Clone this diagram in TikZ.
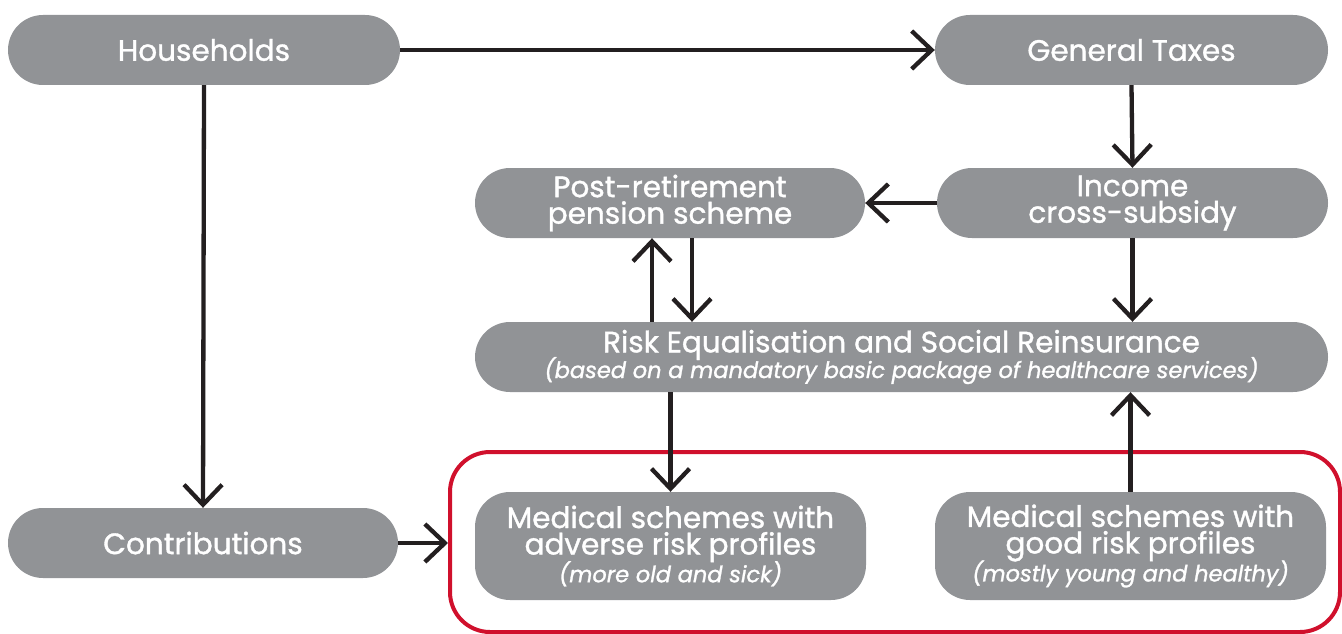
\documentclass[tikz,border=0pt]{standalone}
\usepackage{fontspec}
\setmainfont{Poppins}[FakeBold=1.2]
\usetikzlibrary{arrows.meta}
\definecolor{boxgrey}{RGB}{145,147,150}
\definecolor{linedark}{RGB}{35,31,32}
\definecolor{frame}{RGB}{208,16,44}
\tikzset{
  pill/.style={draw=none, fill=boxgrey, text=white, rounded corners=35pt,
    minimum height=70pt, align=center, inner sep=0pt,
    font=\fontsize{29.5}{26.5}\selectfont},
  tallpill/.style={pill, minimum height=108pt},
  flow/.style={draw=linedark, line width=4.3pt,
    -{Straight Barb[length=20pt,width=38pt]}},
  redframe/.style={draw=frame, line width=4pt, rounded corners=40pt, fill=none}
}
\newcommand{\subtext}[1]{{\fontsize{22.5}{22}\selectfont\itshape #1}}
\begin{document}
\begin{tikzpicture}[x=1pt,y=-1pt]
\useasboundingbox (0,0) rectangle (1342,634);
\node[redframe, minimum width=890pt, minimum height=180pt] (red) at (895,542) {};
\node[pill, minimum width=392pt] (hh) at (204,50) {Households};
\node[pill, minimum width=393pt] (gt) at (1131.5,50) {General Taxes};
\node[pill, minimum width=391pt] (ic) at (1132.5,203) {Income\\cross-subsidy};
\node[pill, minimum width=390pt] (pr) at (670,203) {Post-retirement\\pension scheme};
\node[pill, minimum width=853pt] (re) at (901.5,357) {Risk Equalisation and Social Reinsurance\\[-4pt]\subtext{(based on a mandatory basic package of healthcare services)}};
\node[tallpill, minimum width=391pt] (ma) at (670.5,546) {Medical schemes with\\adverse risk profiles\\[-2pt]\subtext{(more old and sick)}};
\node[tallpill, minimum width=391pt] (mg) at (1130.5,546) {Medical schemes with\\good risk profiles\\[-2pt]\subtext{(mostly young and healthy)}};
\node[pill, minimum width=390pt] (co) at (203,543) {Contributions};
\draw[flow] (hh.east) -- (gt.west);
\draw[flow] (hh.south) -- (co.north);
\draw[flow] (gt.south) -- (ic.north);
\draw[flow] (ic.west) -- (pr.east);
\draw[flow] (ic.south) -- (ic.south |- re.north);
\draw[flow] ([xshift=-18pt]pr.south |- re.north) -- ([xshift=-18pt]pr.south);
\draw[flow] ([xshift=22pt]pr.south) -- ([xshift=22pt]pr.south |- re.north);
\draw[flow] (ma.north |- re.south) -- (ma.north);
\draw[flow] (mg.north) -- (mg.north |- re.south);
\draw[flow] (co.east) -- (co.east -| red.west);
\end{tikzpicture}
\end{document}
